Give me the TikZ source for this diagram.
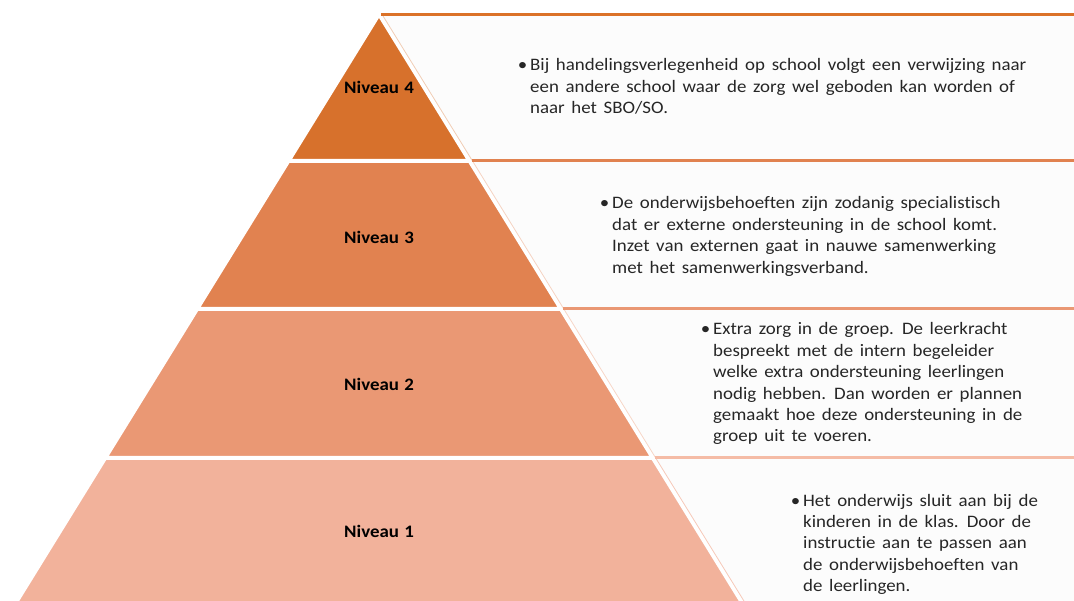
\documentclass[tikz,border=0pt]{standalone}
\usepackage{fontspec}
\setmainfont{Carlito}[FakeStretch=1.08,Ligatures=NoCommon]
\definecolor{cfour}{RGB}{215,113,44}
\definecolor{cthree}{RGB}{225,130,80}
\definecolor{ctwo}{RGB}{234,152,116}
\definecolor{cone}{RGB}{242,178,155}
\definecolor{lone}{RGB}{245,188,166}
\definecolor{panelbg}{RGB}{252,252,252}
\newcommand\myLabFont{\fontsize{17.5}{22}\selectfont\bfseries\spaceskip 0.3em\relax}
\newcommand\myBodyFont{\fontsize{17.5}{21.4}\selectfont\spaceskip 0.38em\relax}
\begin{document}
\begin{tikzpicture}[x=1pt,y=-1pt,
  level/.style={draw=white,line width=2pt,line join=miter},
  panel/.style={fill=panelbg,draw=none},
  topline/.style={line width=3pt},
  edgeline/.style={line width=0.8pt},
  lab/.style={font=\myLabFont,text=black,inner sep=0pt},
  body/.style={font=\myBodyFont,align=left,inner sep=0pt,anchor=base west,text=black!85}]
\useasboundingbox (0,0) rectangle (1074,601);
\clip (0,0) rectangle (1074,601);
% panels
\path[panel] (382.4,15) -- (1074,15) -- (1074,161) -- (472.5,161) -- cycle;
\path[panel] (472.5,161) -- (1074,161) -- (1074,309) -- (563.8,309) -- cycle;
\path[panel] (563.8,309) -- (1074,309) -- (1074,458) -- (655.7,458) -- cycle;
\path[panel] (655.7,458) -- (1074,458) -- (1074,610) -- (749.5,610) -- cycle;
% panel left edge faint lines
\draw[edgeline,cfour!35] (382.4,15) -- (472.5,161);
\draw[edgeline,cthree!35] (472.5,161) -- (563.8,309);
\draw[edgeline,ctwo!40] (563.8,309) -- (655.7,458);
\draw[edgeline,cone!70] (655.7,458) -- (749.5,610);
% panel top lines
\coordinate (p4a) at (381,15); \coordinate (p4b) at (1074,15);
\coordinate (p3a) at (472,161); \coordinate (p3b) at (1074,161);
\coordinate (p2a) at (563,309); \coordinate (p2b) at (1074,309);
\coordinate (p1a) at (655,458); \coordinate (p1b) at (1074,458);
\draw[topline,cfour!90!orange] (p4a) -- (p4b);
\draw[topline,cthree] (p3a) -- (p3b);
\draw[topline,ctwo] (p2a) -- (p2b);
\draw[topline,lone] (p1a) -- (p1b);
% pyramid levels
\filldraw[level,fill=cfour] (379,16) -- (467.8,160) -- (290.2,160) -- cycle;
\filldraw[level,fill=cthree] (288.9,162) -- (469.1,162) -- (559.2,308) -- (198.8,308) -- cycle;
\filldraw[level,fill=ctwo] (197.6,310) -- (560.4,310) -- (651.1,457) -- (106.9,457) -- cycle;
\filldraw[level,fill=cone] (105.7,459) -- (652.3,459) -- (745.5,610) -- (12.5,610) -- cycle;
% labels
\node[lab] (n4) at (379,87) {Niveau 4};
\node[lab] (n3) at (379,237) {Niveau 3};
\node[lab] (n2) at (379,384) {Niveau 2};
\node[lab] (n1) at (379,531) {Niveau 1};
% texts (anchored at the baseline of the last line)
\node[body] (t4) at (530,113.8) {\llap{•\hspace{3pt}}Bij handelingsverlegenheid op school volgt een verwijzing naar\\een andere school waar de zorg wel geboden kan worden of\\naar het SBO/SO.};
\node[body] (t3) at (612,273.2) {\llap{•\hspace{3pt}}De onderwijsbehoeften zijn zodanig specialistisch\\dat er externe ondersteuning in de school komt.\\Inzet van externen gaat in nauwe samenwerking\\met het samenwerkingsverband.};
\node[body] (t2) at (713,442) {\llap{•\hspace{3pt}}Extra zorg in de groep. De leerkracht\\bespreekt met de intern begeleider\\welke extra ondersteuning leerlingen\\nodig hebben. Dan worden er plannen\\gemaakt hoe deze ondersteuning in de\\groep uit te voeren.};
\node[body] (t1) at (803,591.6) {\llap{•\hspace{3pt}}Het onderwijs sluit aan bij de\\kinderen in de klas. Door de\\instructie aan te passen aan\\de onderwijsbehoeften van\\de leerlingen.};
\end{tikzpicture}
\end{document}
